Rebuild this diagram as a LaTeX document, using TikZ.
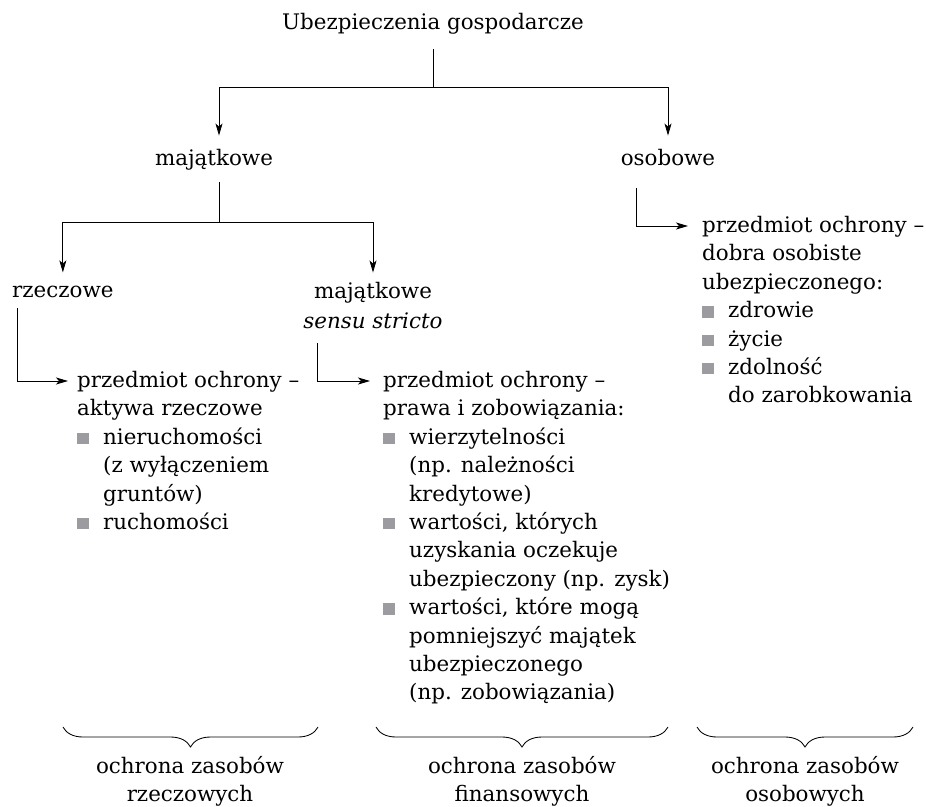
\documentclass[tikz,border=0pt]{standalone}
\usepackage{fontspec}
\setmainfont{DejaVu Serif}
\usetikzlibrary{arrows.meta,decorations.pathreplacing}
\definecolor{bulletgray}{RGB}{155,155,160}
\newcommand{\sqitem}{\makebox[26pt][l]{\textcolor{bulletgray}{\rule{11.5pt}{11.5pt}}}}
\newcommand{\contd}{\hspace*{26pt}}

\begin{document}
\begin{tikzpicture}[x=1pt,y=-1pt,
  every node/.style={inner sep=0pt,font=\fontsize{21.4}{28.4}\selectfont},
  conn/.style={line width=0.85pt},
  arr/.style={conn,-{Stealth[length=12pt,width=7pt,inset=3pt]}},
  curly/.style={line width=0.85pt,decorate,decoration={brace,mirror,amplitude=20pt}}]
\useasboundingbox (0,0) rectangle (926,806);

\node[anchor=base] (top) at (433,29) {Ubezpieczenia gospodarcze};
\node[anchor=base] (maj) at (214,165) {majątkowe};
\node[anchor=base] (oso) at (668,165) {osobowe};
\node[anchor=base west] (rze) at (12,297) {rzeczowe};
\node[anchor=base] (mss) at (373,298) {majątkowe};
\node[anchor=base] (ss) at (373,328) {\itshape sensu stricto};

\node[anchor=north west,align=left] (blkA) at (77,371) {przedmiot ochrony –\\aktywa rzeczowe\\\sqitem nieruchomości\\\contd(z wyłączeniem\\\contd gruntów)\\\sqitem ruchomości};
\node[anchor=north west,align=left] (blkB) at (383,371) {przedmiot ochrony –\\prawa i zobowiązania:\\\sqitem wierzytelności\\\contd(np. należności\\\contd kredytowe)\\\sqitem wartości, których\\\contd uzyskania oczekuje\\\contd ubezpieczony (np. zysk)\\\sqitem wartości, które mogą\\\contd pomniejszyć majątek\\\contd ubezpieczonego\\\contd(np. zobowiązania)};
\node[anchor=north west,align=left] (blkC) at (702,216) {przedmiot ochrony –\\dobra osobiste\\ubezpieczonego:\\\sqitem zdrowie\\\sqitem życie\\\sqitem zdolność\\\contd do zarobkowania};

\coordinate (j1) at (433,87);
\coordinate (j2) at (219,222);
\draw[conn] ([yshift=-20pt]top.base) -- (j1);
\draw[arr] (j1) -| ([xshift=5pt,yshift=13pt]maj.north);
\draw[arr] (j1) -| ([yshift=13pt]oso.north);
\draw[conn] ([xshift=5pt,yshift=-17pt]maj.base) -- (j2);
\draw[arr] (j2) -| ([yshift=13pt]rze.north);
\draw[arr] (j2) -| ([yshift=9pt]mss.north);

\draw[arr] ([xshift=5pt,yshift=-11pt]rze.base west) |- ([xshift=-9pt,yshift=-10pt]blkA.north west);
\draw[arr] ([xshift=14pt,yshift=-15pt]ss.base west) |- ([xshift=-13pt,yshift=-10pt]blkB.north west);
\draw[arr] ([xshift=16pt,yshift=-23pt]oso.base west) |- ([xshift=-14pt,yshift=-10pt]blkC.north west);

\coordinate (b1) at (63,727);
\coordinate (b2) at (318,727);
\coordinate (b3) at (376,727);
\coordinate (b4) at (668,727);
\coordinate (b5) at (697,727);
\coordinate (b6) at (913,727);
\draw[curly] (b1) -- (b2);
\draw[curly] (b3) -- (b4);
\draw[curly] (b5) -- (b6);

\node[anchor=north,align=center] (labA) at (190,756) {ochrona zasobów\\rzeczowych};
\node[anchor=north,align=center] (labB) at (522,756) {ochrona zasobów\\finansowych};
\node[anchor=north,align=center] (labC) at (805,756) {ochrona zasobów\\osobowych};
\end{tikzpicture}
\end{document}
